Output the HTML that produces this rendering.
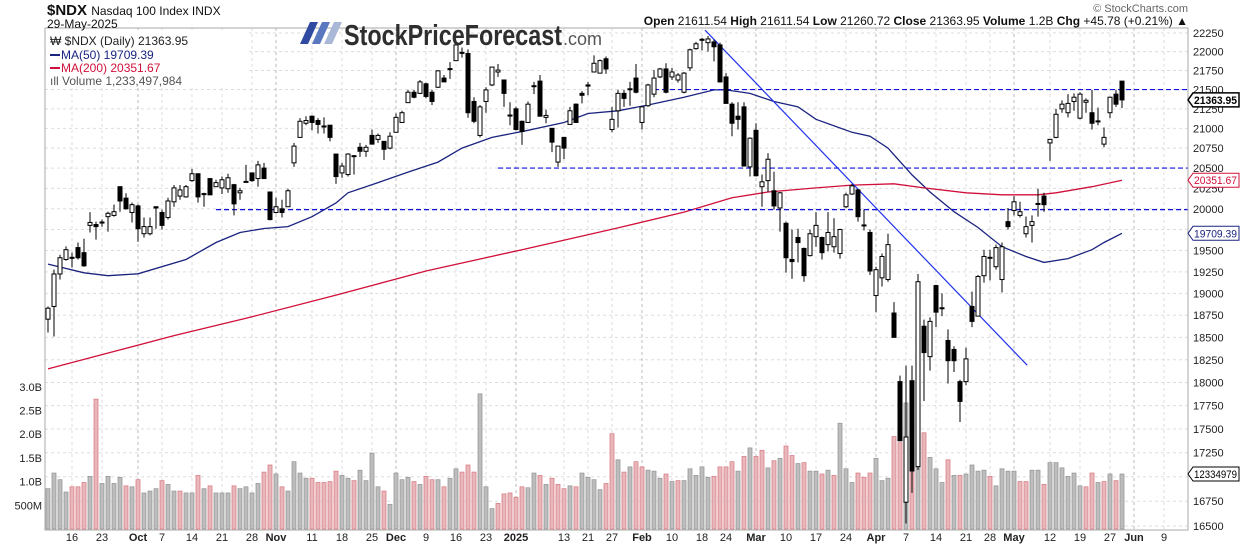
<!DOCTYPE html>
<html><head><meta charset="utf-8"><style>
body{margin:0;background:#fff;}
svg{display:block;font-family:"Liberation Sans",Arial,sans-serif;}
</style></head><body>
<svg id="chart" width="1240" height="546" viewBox="0 0 1240 546" xmlns="http://www.w3.org/2000/svg">
<rect x="0" y="0" width="1240" height="546" fill="#fff"/>
<g id="grid"></g>
<g id="vol"></g>
<g id="ma"></g>
<g id="ann"></g>
<g id="candles"></g>
<rect x="46" y="30" width="200" height="57" fill="#fff"/>
<g font-size="12">
<text x="50" y="45" fill="#222">₩ $NDX (Daily) 21363.95</text>
<rect x="50" y="54" width="10" height="2" fill="#1a237e"/>
<text x="61" y="59" fill="#1a237e">MA(50) 19709.39</text>
<rect x="50" y="67" width="10" height="2" fill="#d0103a"/>
<text x="61" y="72" fill="#d0103a">MA(200) 20351.67</text>
<text x="50" y="85" fill="#555">ıll Volume 1,233,497,984</text>
</g>
<rect x="45" y="28" width="1143" height="502" fill="none" stroke="#aaa" stroke-width="1"/>
<g id="axes"></g>
<g>
<text x="47" y="15" font-size="15" font-weight="bold" fill="#111">$NDX <tspan font-size="12" font-weight="normal">Nasdaq 100 Index  INDX</tspan></text>
<text x="47" y="28" font-size="12" fill="#111">29-May-2025</text>
<text x="1188" y="12" font-size="11" fill="#666" text-anchor="end">© StockCharts.com</text>
<text x="1188" y="25" font-size="12" fill="#111" text-anchor="end"><tspan font-weight="bold">Open</tspan> 21611.54  <tspan font-weight="bold">High</tspan> 21611.54  <tspan font-weight="bold">Low</tspan> 21260.72  <tspan font-weight="bold">Close</tspan> 21363.95  <tspan font-weight="bold">Volume</tspan> 1.2B  <tspan font-weight="bold">Chg</tspan> +45.78 (+0.21%) ▲</text>
</g>
<g>
<polygon points="310,22 318,22 308,44 300,44" fill="#2f4aa0"/>
<polygon points="322,22 330,22 320,44 312,44" fill="#5a78c0"/>
<polygon points="334,22 342,22 332,44 324,44" fill="#aab8d8"/>
<text x="344" y="45" font-size="29" font-weight="bold" fill="#2e2e2e" textLength="218" lengthAdjust="spacingAndGlyphs">StockPriceForecast</text>
<text x="563" y="45" font-size="18" fill="#555">.com</text>
</g>
</svg>
<script>
const opens=[18705,18850,19225,19395,19410,19535,19475,19800,19810,19830,19905,19920,20270,20130,19955,20035,19700,19700,20025,19955,19895,20085,20155,20145,20345,20430,20175,20370,20270,20255,20245,20295,20195,20325,20440,20370,20500,20205,19955,20000,20025,20565,20885,21065,21155,21100,21020,21040,20675,20440,20420,20645,20760,20710,20910,20860,20835,20750,20950,21075,21330,21465,21450,21575,21465,21530,21650,21765,21880,21980,21975,21345,20910,21345,21560,21730,21625,21160,21250,21090,21075,21540,21610,21140,21000,20575,20885,21050,21310,21450,21560,21730,21715,21905,20985,21225,21450,21500,21650,21075,21290,21440,21665,21770,21665,21625,21465,21785,22040,22155,22120,22130,22090,21665,21310,21155,21275,20515,20975,20270,20345,20220,20010,19825,19395,19655,19525,19440,19665,19655,19570,19545,19465,20025,20180,20230,19795,19715,18975,19180,19160,18775,18010,16740,18020,17105,18625,18285,19090,18825,18465,18365,18010,18010,18850,18740,19205,19410,19310,19160,19845,19980,19920,19700,19800,20055,20155,20815,20885,21250,21200,21345,21130,21335,21200,21085,20800,21200,21440,21610];
const highs=[18850,19275,19450,19550,19475,19595,19640,19960,19845,19870,19965,20050,20270,20190,20075,20050,19895,19895,20025,19990,20135,20290,20290,20290,20490,20430,20195,20370,20355,20395,20430,20305,20255,20540,20440,20590,20565,20205,20135,20110,20245,20815,21130,21155,21165,21130,21140,21040,20675,20565,20685,20660,20815,20790,20985,20935,20835,20950,21190,21225,21495,21495,21625,21590,21495,21755,21690,21860,22120,22055,22030,21400,21300,21530,21795,21835,21625,21335,21275,21100,21345,21600,21690,21240,21000,20775,20885,21275,21320,21480,21600,21950,21895,21935,21275,21495,21495,21600,21835,21275,21575,21755,21785,21845,21785,21715,21730,22040,22130,22185,22210,22160,22120,21715,21335,21335,21335,20885,21065,20420,20685,20455,20205,19845,19750,19760,19535,19750,19960,19665,19960,19885,19760,20195,20305,20245,19990,19750,19310,19465,19700,18900,18075,18185,18185,19225,18700,18725,19100,19000,18590,18400,18030,18385,19020,19215,19510,19510,19570,19595,20010,20155,20085,19905,19920,20245,20195,20860,21250,21360,21440,21450,21465,21385,21495,21265,21010,21410,21495,21610];
const lows=[18555,18510,19160,19380,19300,19395,19310,19715,19630,19785,19725,19905,19965,19990,19835,19605,19655,19680,19760,19750,19870,20025,20110,20135,20330,20075,20025,20170,20270,20180,20195,19920,20110,20320,20330,20270,20370,19860,19945,19895,20025,20515,20885,21040,20975,20935,20935,20835,20305,20380,20395,20420,20640,20640,20800,20815,20600,20735,20950,21075,21335,21385,21440,21385,21300,21520,21600,21640,21880,21920,21135,21065,20885,21200,21545,21665,21275,21040,20975,20790,21075,21440,21155,21065,20700,20515,20610,21050,21075,21320,21425,21730,21715,21705,20950,21010,21275,21290,21450,20985,21275,21400,21650,21450,21625,21590,21450,21745,22025,22015,22000,21870,21590,21320,20900,20985,20525,20395,20395,20025,20205,19990,19725,19240,19170,19360,19135,19430,19545,19395,19490,19475,19405,20010,20170,19845,19740,19215,18785,19080,19135,18500,17375,16525,16835,17070,17800,18130,18615,18740,17990,18115,17575,17970,18615,18740,19125,19150,19275,19010,19750,19920,19895,19655,19595,19905,19965,20590,20875,21200,21140,21225,21115,21200,20985,21040,20760,21130,21275,21260];
const closes=[18830,19225,19415,19510,19420,19415,19320,19835,19785,19840,19945,19965,20095,20000,20050,19760,19785,19785,20010,19800,20095,20255,20230,20270,20430,20145,20185,20170,20320,20355,20380,20060,20220,20335,20345,20540,20370,19870,20025,19955,20220,20775,21090,21100,21075,21050,21030,20885,20395,20525,20675,20655,20710,20760,20800,20910,20735,20900,21140,21200,21465,21400,21600,21410,21345,21745,21600,21775,22090,21990,21200,21090,21275,21495,21795,21755,21450,21170,20985,20960,21310,21550,21155,21165,20825,20775,20750,21225,21075,21425,21545,21845,21880,21770,21115,21450,21385,21510,21465,21275,21560,21650,21770,21465,21730,21690,21715,22025,22105,22165,22170,22065,21600,21320,21065,21115,20525,20875,20405,20330,20610,20035,20195,19415,19370,19595,19205,19700,19800,19475,19715,19665,19750,20170,20280,19905,19805,19260,19275,19430,19570,18500,17375,17415,17060,19135,18330,18680,18785,18835,18240,18240,17795,18260,18680,19195,19430,19420,19535,19545,19785,20085,19965,19785,19845,20065,20050,20860,21180,21310,21320,21400,21440,21360,21065,21095,20885,21400,21310,21365];
const volumes=[0.85,1.18,1.04,0.78,0.89,0.89,0.98,1.11,2.74,0.96,1.11,0.96,1.09,0.91,0.89,1.04,0.76,0.80,0.85,1.02,0.94,0.80,0.80,0.76,0.76,1.13,0.85,0.91,0.76,0.76,0.76,0.91,0.85,0.89,0.76,0.96,1.20,1.35,1.16,0.89,0.80,1.42,1.18,1.07,1.07,0.98,0.98,1.00,1.22,1.13,1.07,1.02,1.24,1.02,1.60,0.89,0.80,0.52,1.18,1.04,1.09,1.00,0.94,1.11,1.04,1.04,0.89,1.07,1.27,1.20,1.35,1.20,2.85,0.89,0.43,0.54,0.74,0.76,0.67,0.89,0.87,1.18,1.13,0.94,1.07,0.94,0.85,0.91,0.89,1.18,1.09,1.04,0.83,0.96,2.01,1.46,1.20,1.31,1.42,1.31,1.24,1.22,1.07,1.16,1.00,1.02,1.02,1.27,1.13,1.31,1.09,1.11,1.31,1.31,1.42,1.22,1.53,1.71,1.53,1.66,1.29,1.44,1.49,1.75,1.55,1.38,1.40,1.22,1.22,1.16,1.24,1.13,2.23,1.27,0.98,1.18,1.09,1.18,1.49,1.02,1.07,1.95,1.82,2.66,2.48,3.01,2.03,1.51,1.27,0.98,1.46,1.13,1.13,1.16,1.35,1.22,1.24,1.11,0.91,1.27,1.22,1.22,1.00,1.00,1.24,1.24,0.94,1.40,1.40,1.29,1.11,1.18,0.91,0.89,1.18,0.98,1.00,1.16,1.02,1.16];
const ma50Idx=[0,6,10,15,23,28,32,36,40,44,48,50,55,60,65,69,74,80,86,90,95,100,106,111,113,117,121,125,128,134,137,140,144,147,151,155,159,163,166,170,174,176,179];
const ma50Vals=[19340,19239,19205,19227,19395,19595,19715,19762,19785,19905,20070,20195,20320,20450,20575,20750,20885,20975,21075,21190,21225,21300,21400,21495,21495,21450,21345,21275,21115,20950,20900,20750,20415,20205,19965,19775,19545,19430,19360,19405,19510,19595,19705];
const ma200Idx=[0,12,21,33,48,63,79,95,106,114,120,128,134,141,146,153,159,165,168,174,179];
const ma200Vals=[18150,18360,18520,18715,18980,19260,19510,19770,19960,20135,20205,20255,20290,20305,20255,20195,20170,20170,20195,20270,20350];
const priceTicks=[22250,22000,21750,21500,21250,21000,20750,20500,20250,20000,19750,19500,19250,19000,18750,18500,18250,18000,17750,17500,17250,17000,16750,16500];
const volTicks=[3.0,2.5,2.0,1.5,1.0,0.5];
const volTickLabels=["3.0B","2.5B","2.0B","1.5B","1.0B","500M"];
const dateLabels=["16","23","Oct","7","14","21","28","Nov","11","18","25","Dec","9","16","23","2025","13","21","27","Feb","10","18","24","Mar","10","17","24","Apr","7","14","21","28","May","12","19","27","Jun","9"];
const dateIdx=[4,9,15,19,24,29,34,38,44,49,54,58,63,68,73,78,86,90,94,99,104,109,113,118,123,128,133,138,143,148,153,157,161,167,172,177,181,186];
const monthLabels=["Oct","Nov","Dec","2025","Feb","Mar","Apr","May","Jun"];
const hLevels=[21500,20500,19990];
const hStart=[101,75,28];
const trendIdx=[109.5,163.2];
const trendVals=[22290,18190];

const NS="http://www.w3.org/2000/svg";
const X0=45,X1=1188,Y0=28,Y1=530;
function xs(k){return 48+6*k;}
function ys(p){return 33+1649*Math.log(22250/p);}
function yv(v){return 529-47.4*v;}
function mk(tag,attrs,parent){const e=document.createElementNS(NS,tag);for(const a in attrs)e.setAttribute(a,attrs[a]);parent.appendChild(e);return e;}
const grid=document.getElementById('grid'),axes=document.getElementById('axes');
priceTicks.forEach(p=>{
  const y=ys(p);
  const l=mk('line',{x1:X0,x2:X1,y1:y,y2:y,stroke:'#ddd','stroke-dasharray':'3,3'},grid);
  
  
  const t=mk('text',{x:1193,y:y+4,'font-size':11,fill:'#222'},axes);
  t.textContent=String(p);
  
  
});
volTicks.forEach((v,i)=>{
  const t=mk('text',{x:42,y:yv(v)+4,'font-size':11,fill:'#222','text-anchor':'end'},axes);
  t.textContent=volTickLabels[i];
  
  
});
dateLabels.forEach((d,i)=>{
  const x=xs(dateIdx[i]);
  const isM=monthLabels.includes(d);
  if(x<X1){
    const l=mk('line',{x1:x,x2:x,y1:Y0,y2:Y1,stroke:isM?'#bbb':'#ddd','stroke-dasharray':'3,3'},grid);
    
    
  }
  const t=mk('text',{x:x,y:541,'font-size':11,fill:'#222','text-anchor':'middle','font-weight':isM?'bold':'normal'},axes);
  t.textContent=d;
  
  
});
const vol=document.getElementById('vol');
volumes.forEach((v,k)=>{
  const down=k>0&&closes[k]<closes[k-1];
  const y=yv(v);
  const r=mk('rect',{x:xs(k)-2,y:y,width:4,height:529-y,fill:down?'#e8b7bb':'#bdbdbd',stroke:down?'#d98088':'#999','stroke-width':0.8},vol);
  
  
});
const ma=document.getElementById('ma');
function line(idx,vals,color,name){
  const d=idx.map((k,i)=>(i?'L':'M')+xs(k).toFixed(1)+','+ys(vals[i]).toFixed(1)).join(' ');
  const p=mk('path',{d:d,fill:'none',stroke:color,'stroke-width':1.3},ma);
  
  
}
line(ma50Idx,ma50Vals,'#1a237e','ma50-line');
line(ma200Idx,ma200Vals,'#d0103a','ma200-line');
const ann=document.getElementById('ann');
hLevels.forEach((p,i)=>{
  const l=mk('line',{x1:xs(hStart[i]),x2:X1,y1:ys(p),y2:ys(p),stroke:'#1010e0','stroke-width':1.2,'stroke-dasharray':'5,3'},ann);
  
  
});
const tl=mk('line',{x1:xs(trendIdx[0]),y1:ys(trendVals[0]),x2:xs(trendIdx[1]),y2:ys(trendVals[1]),stroke:'#2233ee','stroke-width':1.2},ann);


const cg=document.getElementById('candles');
closes.forEach((c,k)=>{
  const o=opens[k],x=xs(k);
  const w=mk('line',{x1:x,x2:x,y1:ys(highs[k]),y2:ys(lows[k]),stroke:'#000','stroke-width':1},cg);
  
  
  const top=ys(Math.max(o,c)),bot=ys(Math.min(o,c));
  const b=mk('rect',{x:x-2,y:top,width:4,height:Math.max(1,bot-top),fill:c>=o?'#fff':'#000',stroke:'#000','stroke-width':1},cg);
  
  
});
function tag(y,txt,color,bold,name){
  const g=mk('g',{},axes);
  
  
  mk('polygon',{points:`1188,${y} 1193,${y-7} 1239,${y-7} 1239,${y+7} 1193,${y+7}`,fill:'#fff',stroke:color,'stroke-width':bold?1.5:1},g);
  const t=mk('text',{x:1194,y:y+4,'font-size':11,fill:color,'font-weight':bold?'bold':'normal',textLength:43,lengthAdjust:'spacingAndGlyphs'},g);
  t.textContent=txt;
}
tag(ys(closes[closes.length-1]),'21363.95','#000',true,'last-price-tag');
tag(ys(ma200Vals[ma200Vals.length-1]),'20351.67','#d0103a',false,'ma200-value-tag');
tag(ys(ma50Vals[ma50Vals.length-1]),'19709.39','#1a237e',false,'ma50-value-tag');
tag(yv(volumes[volumes.length-1]),'12334979','#000',false,'volume-value-tag');
</script>
</body></html>
